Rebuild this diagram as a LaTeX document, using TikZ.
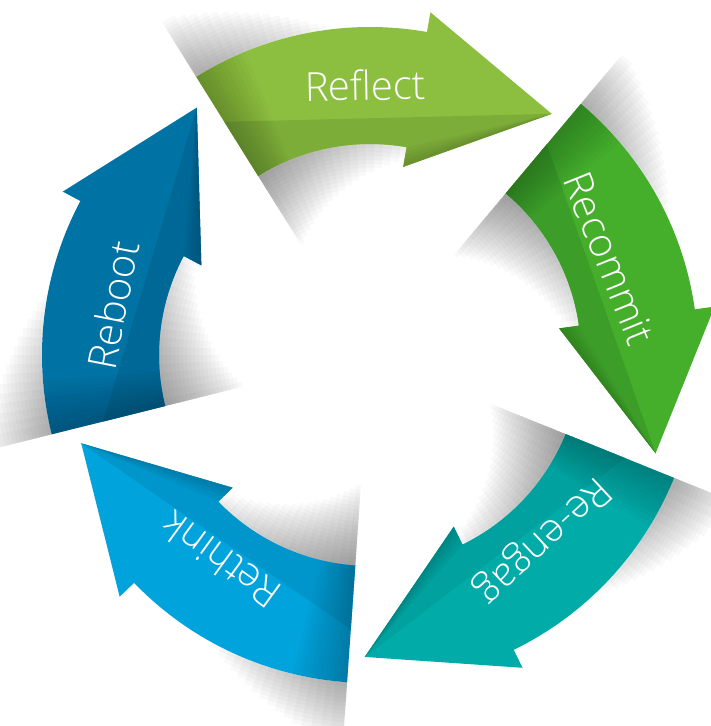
\documentclass[tikz,border=0pt]{standalone}
\usepackage{fontspec}
\setmainfont{Open Sans Light}
\usepackage{xcolor}
\usepackage{tikz}
\usetikzlibrary{positioning}

\definecolor{reflectgreen}{HTML}{8CBF40}
\definecolor{reflectdark}{HTML}{7DAD39}
\definecolor{recommitgreen}{HTML}{45AF2C}
\definecolor{recommitdark}{HTML}{3C9E29}
\definecolor{reengageteal}{HTML}{00ABA8}
\definecolor{reengagedark}{HTML}{00A19E}
\definecolor{rethinkblue}{HTML}{00A3DC}
\definecolor{rethinkdark}{HTML}{0096CB}
\definecolor{rebootblue}{HTML}{0073A5}
\definecolor{rebootdark}{HTML}{006896}

\tikzset{
  arrowlabel/.style={text=white, inner sep=0pt, font=\fontsize{40}{48}\selectfont},
}

% soft shadows round the lifted tail of one arrow (#1 = tail angle)
\newcommand{\arrowshadow}[1]{%
  % inside the ring
  \foreach \j in {1,...,20}
    \fill[black, opacity=0.025] (#1:211) arc[start angle=#1, end angle=#1-50+2.4*\j, radius=211]
      -- (#1-50+2.4*\j:211-4*\j) arc[start angle=#1-50+2.4*\j, end angle=#1, radius=211-4*\j] -- cycle;
  % outside the ring
  \foreach \j in {1,...,16}
    \fill[black, opacity=0.022] (#1:328) arc[start angle=#1, end angle=#1-26+1.5*\j, radius=328]
      -- (#1-26+1.5*\j:328+4*\j) arc[start angle=#1-26+1.5*\j, end angle=#1, radius=328+4*\j] -- cycle;
}

% one curved arrow of the cycle (#1 = tail angle, #2 = colour, #3 = darker colour)
\newcommand{\cyclearrow}[3]{%
  \pgfmathsetmacro{\shaftend}{#1-42}
  \pgfmathsetmacro{\tipangle}{#1-69}
  \fill[#2] (#1:328) arc[start angle=#1, end angle=\shaftend, radius=328]
    -- (\shaftend:348) -- (\tipangle:302) -- (\shaftend:191) -- (\shaftend:211)
    arc[start angle=\shaftend, end angle=#1, radius=211] -- cycle;
  % darker inner half
  \fill[#3] (#1:275) -- (\tipangle:302) -- (\shaftend:191) -- (\shaftend:211)
    arc[start angle=\shaftend, end angle=#1, radius=211] -- cycle;
  % shade along the inner edge of the head
  \foreach \m in {1,...,5}
    \fill[black, opacity=0.03] (\tipangle:302) -- (\shaftend:191) -- (\shaftend:191+4*\m) -- cycle;
  % fold shade at the tail
  \foreach \k in {1,...,12}
    \fill[black, opacity=0.018] (#1:328) arc[start angle=#1, end angle=#1-0.8*\k, radius=328]
      -- (#1-0.8*\k:211) arc[start angle=#1-0.8*\k, end angle=#1, radius=211] -- cycle;
}

\begin{document}
\begin{tikzpicture}[x=1pt, y=1pt]
  \useasboundingbox (0,0) rectangle (711,-726);
  \begin{scope}
    \clip (0,0) rectangle (711,-726);
    \begin{scope}[shift={(370,-355)}]
      % shadows first
      \arrowshadow{122}
      \arrowshadow{50}
      \arrowshadow{-22}
      \arrowshadow{-94}
      \arrowshadow{-166}

      % the five arrows
      \cyclearrow{122}{reflectgreen}{reflectdark}
      \cyclearrow{50}{recommitgreen}{recommitdark}
      \cyclearrow{-22}{reengageteal}{reengagedark}
      \cyclearrow{-94}{rethinkblue}{rethinkdark}
      \cyclearrow{-166}{rebootblue}{rebootdark}

      % labels
      \node[arrowlabel, rotate=1] (reflect) at (91:270) {Reflect};
      \node[arrowlabel, rotate=-68] (recommit) at (22:258) {Recommit};
      \node[arrowlabel, rotate=-137] (reengage) at (-47:252) {Re-engag};
      \node[arrowlabel, rotate=144] (rethink) at (-126:254) {Rethink};
      \node[arrowlabel, rotate=79] (reboot) at (169:262) {Reboot};
    \end{scope}
  \end{scope}
\end{tikzpicture}
\end{document}
